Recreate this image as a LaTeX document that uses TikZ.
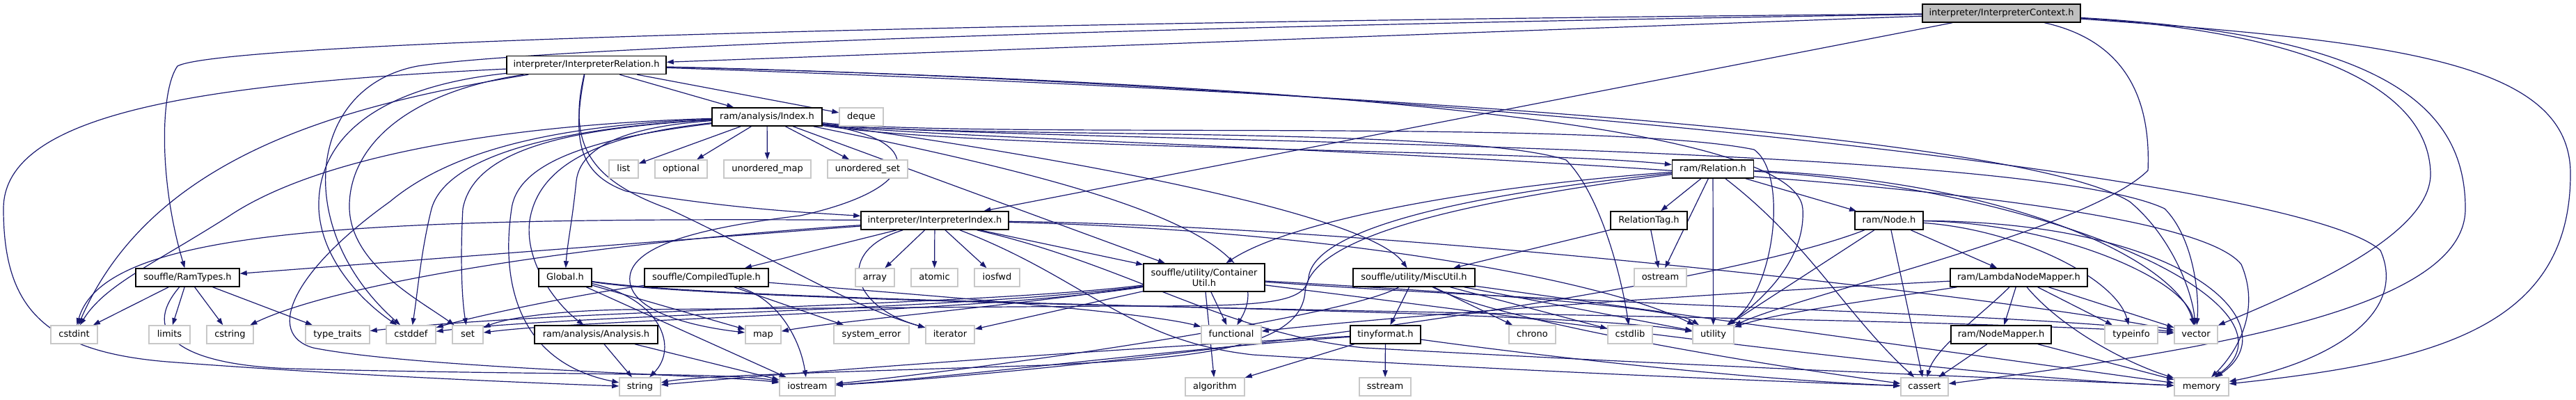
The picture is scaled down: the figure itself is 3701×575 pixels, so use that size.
\documentclass[tikz,border=0pt]{standalone}
\usepackage{fontspec}
\setmainfont{DejaVu Sans}
\usetikzlibrary{arrows.meta}
\definecolor{mb}{HTML}{191970}
\definecolor{sysgray}{HTML}{C8C8C8}
\definecolor{rootgray}{HTML}{BFBFBF}
\pgfdeclarelayer{edges}
\pgfsetlayers{edges,main}
\begin{document}
\begin{tikzpicture}[x=1pt,y=-1pt,
  nodebase/.style={rectangle, inner sep=0pt, fill=white, font=\fontsize{13}{14.5}\selectfont},
  base/.style={nodebase, minimum height=26pt, text height=9.8pt, text depth=2.8pt},
  proj/.style={base, draw=black, line width=1.5pt},
  sys/.style={base, draw=sysgray, line width=1.5pt},
  root/.style={proj, fill=rootgray},
  e/.style={draw=mb, line width=1.2pt, -{Triangle[length=10pt,width=7pt]}}]
\useasboundingbox (0,0) rectangle (3701,575);
% row 0-1
\node[root, minimum width=227pt] (ctx) at (2875.5,19) {interpreter/InterpreterContext.h};
\node[proj, minimum width=229pt] (irel) at (842.5,93.5) {interpreter/InterpreterRelation.h};
% row 2
\node[proj, minimum width=158pt] (index) at (1102,168) {ram/analysis/Index.h};
\node[sys, minimum width=63pt] (deque) at (1237.5,168) {deque};
% row 3
\node[sys, minimum width=42pt] (list) at (896,243) {list};
\node[sys, minimum width=75pt] (optional) at (978.5,243) {optional};
\node[sys, minimum width=125pt] (umap) at (1102.5,243) {unordered\_map};
\node[sys, minimum width=115pt] (uset) at (1246.5,243) {unordered\_set};
\node[proj, minimum width=117pt] (ramrel) at (2461,243) {ram/Relation.h};
% row 4
\node[proj, minimum width=212pt] (iidx) at (1343,317) {interpreter/InterpreterIndex.h};
\node[proj, minimum width=110pt] (reltag) at (2369,317) {RelationTag.h};
\node[proj, minimum width=98pt] (node) at (2714,317) {ram/Node.h};
% row 5
\node[proj, minimum width=149pt] (ramtypes) at (269.5,399) {souffle/RamTypes.h};
\node[proj, minimum width=76pt] (global) at (812,399) {Global.h};
\node[proj, minimum width=178pt] (ctuple) at (1015,399) {souffle/CompiledTuple.h};
\node[sys, minimum width=56pt] (array) at (1257,399) {array};
\node[sys, minimum width=67pt] (atomic) at (1342.5,399) {atomic};
\node[sys, minimum width=65pt] (iosfwd) at (1432.5,399) {iosfwd};
\node[nodebase, draw=black, line width=1.5pt, minimum width=174pt, minimum height=40pt, align=center] (cutil) at (1730,399) {souffle/utility/Container\\Util.h};
\node[proj, minimum width=175pt] (misc) at (2031.5,399) {souffle/utility/MiscUtil.h};
\node[sys, minimum width=75pt] (ostream) at (2385.5,399) {ostream};
\node[proj, minimum width=197pt] (lnm) at (2900.5,399) {ram/LambdaNodeMapper.h};
% row 6
\node[sys, minimum width=67pt] (cstdint) at (106.5,481) {cstdint};
\node[sys, minimum width=59pt] (limits) at (243.5,481) {limits};
\node[sys, minimum width=67pt] (cstring) at (330.5,481) {cstring};
\node[sys, minimum width=92pt] (typetraits) at (485,481) {type\_traits};
\node[sys, minimum width=71pt] (cstddef) at (590.5,481) {cstddef};
\node[sys, minimum width=44pt] (set) at (672,481) {set};
\node[proj, minimum width=177pt] (analysis) at (856.5,481) {ram/analysis/Analysis.h};
\node[sys, minimum width=51pt] (map) at (1096.5,481) {map};
\node[sys, minimum width=108pt] (syserr) at (1252,481) {system\_error};
\node[sys, minimum width=70pt] (iterator) at (1365,481) {iterator};
\node[sys, minimum width=86pt] (functional) at (1769,481) {functional};
\node[proj, minimum width=101pt] (tinyf) at (1990.5,481) {tinyformat.h};
\node[sys, minimum width=67pt] (chrono) at (2201.5,481) {chrono};
\node[sys, minimum width=64pt] (cstdlib) at (2342,481) {cstdlib};
\node[sys, minimum width=59pt] (utility) at (2461.5,481) {utility};
\node[proj, minimum width=144pt] (nodemapper) at (2875,481) {ram/NodeMapper.h};
\node[sys, minimum width=76pt] (typeinfo) at (3062,481) {typeinfo};
\node[sys, minimum width=62pt] (vector) at (3155,481) {vector};
% row 7
\node[sys, minimum width=59pt] (string) at (919.5,556) {string};
\node[sys, minimum width=80pt] (iostream) at (1160,556) {iostream};
\node[sys, minimum width=85pt] (algorithm) at (1745.5,556) {algorithm};
\node[sys, minimum width=74pt] (sstream) at (1990,556) {sstream};
\node[sys, minimum width=68pt] (cassert) at (2765,556) {cassert};
\node[sys, minimum width=78pt] (memory) at (3163,556) {memory};

\begin{pgfonlayer}{edges}
% InterpreterContext
\draw[e] (ctx) -- (irel);
\draw[e] (ctx) -- (iidx);
\draw[e] (ctx) .. controls (1400,32) and (320,60) .. (255,95) .. controls (230,130) and (228,260) .. (ramtypes);
\draw[e] (ctx) .. controls (1600,38) and (760,70) .. (600,95) .. controls (440,125) and (420,330) .. (cstddef);
\draw[e] (ctx) .. controls (3060,60) and (3090,150) .. (3086,245) .. controls (3000,330) and (2600,420) .. (utility);
\draw[e] (ctx) .. controls (3300,45) and (3490,120) .. (3492,250) .. controls (3492,340) and (3300,420) .. (vector);
\draw[e] (ctx) .. controls (3420,50) and (3542,150) .. (3542,300) .. controls (3542,440) and (3200,500) .. (cassert);
\draw[e] (ctx) .. controls (3450,60) and (3693,90) .. (3693,250) .. controls (3693,470) and (3500,520) .. (memory);
% InterpreterRelation
\draw[e] (irel) -- (index);
\draw[e] (irel) -- (deque);
\draw[e] (irel) .. controls (822,200) and (830,250) .. (900,275) .. controls (1050,300) and (1150,305) .. (iidx);
\draw[e] (irel) .. controls (815,210) and (850,260) .. (960,300) .. controls (1100,365) and (1220,440) .. (iterator);
\draw[e] (irel) .. controls (500,150) and (220,220) .. (cstdint);
\draw[e] (irel) .. controls (300,120) and (5,160) .. (5,300) .. controls (5,440) and (60,505) .. (240,520) .. controls (500,540) and (800,552) .. (string);
\draw[e] (irel) .. controls (540,125) and (455,200) .. (458,300) .. controls (462,380) and (530,440) .. (cstddef);
\draw[e] (irel) .. controls (570,135) and (500,220) .. (502,300) .. controls (505,380) and (600,430) .. (set);
\draw[e] (irel) .. controls (2000,120) and (3300,250) .. (3420,360) .. controls (3460,450) and (3350,520) .. (memory);
\draw[e] (irel) .. controls (1900,130) and (2900,190) .. (3060,290) .. controls (3120,340) and (3150,420) .. (vector);
\draw[e] (irel) .. controls (1900,120) and (2580,180) .. (2590,300) .. controls (2595,380) and (2520,440) .. (utility);
% Index
\draw[e] (index) -- (list);
\draw[e] (index) -- (optional);
\draw[e] (index) -- (umap);
\draw[e] (index) -- (uset);
\draw[e] (index) .. controls (930,180) and (835,200) .. (828,260) .. controls (822,320) and (815,350) .. (global);
\draw[e] (index) .. controls (900,190) and (790,220) .. (765,300) .. controls (745,360) and (790,430) .. (analysis);
\draw[e] (index) .. controls (1400,215) and (2200,215) .. (ramrel);
\draw[e] (index) .. controls (1450,215) and (1960,300) .. (misc);
\draw[e] (index) -- (cutil);
\draw[e] (index) .. controls (700,180) and (450,230) .. (330,310) .. controls (220,380) and (150,410) .. (cstdint);
\draw[e] (index) .. controls (800,185) and (680,220) .. (665,300) .. controls (662,350) and (662,420) .. (set);
\draw[e] (index) .. controls (780,185) and (640,230) .. (620,300) .. controls (605,360) and (600,420) .. (cstddef);
\draw[e] (index) .. controls (1330,200) and (1330,270) .. (1150,310) .. controls (980,330) and (900,360) .. (905,405) .. controls (910,450) and (1000,470) .. (map);
\draw[e] (index) .. controls (800,180) and (650,215) .. (560,290) .. controls (420,390) and (380,480) .. (450,500) .. controls (600,530) and (1050,540) .. (iostream);
\draw[e] (index) .. controls (880,195) and (745,225) .. (735,300) .. controls (720,400) and (740,520) .. (string);
\draw[e] (index) .. controls (1500,250) and (1860,330) .. (functional);
\draw[e] (index) .. controls (1350,200) and (2100,180) .. (2250,230) .. controls (2300,280) and (2330,400) .. (cstdlib);
\draw[e] (index) .. controls (1400,200) and (2300,170) .. (2520,215) .. controls (2570,250) and (2550,420) .. (utility);
\draw[e] (index) .. controls (1400,205) and (2900,200) .. (3110,300) .. controls (3150,340) and (3160,420) .. (vector);
\draw[e] (index) .. controls (1400,210) and (3100,230) .. (3220,380) .. controls (3250,450) and (3210,510) .. (memory);
% InterpreterIndex
\draw[e] (iidx) -- (ramtypes);
\draw[e] (iidx) .. controls (500,312) and (150,330) .. (cstdint);
\draw[e] (iidx) -- (ctuple);
\draw[e] (iidx) -- (array);
\draw[e] (iidx) -- (atomic);
\draw[e] (iidx) -- (iosfwd);
\draw[e] (iidx) -- (cutil);
\draw[e] (iidx) .. controls (900,345) and (500,400) .. (cstring);
\draw[e] (iidx) .. controls (1200,360) and (1220,440) .. (iterator);
\draw[e] (iidx) .. controls (1560,400) and (1620,490) .. (1800,510) .. controls (2200,535) and (2600,550) .. (cassert);
\draw[e] (iidx) .. controls (1620,380) and (1760,480) .. (1960,500) .. controls (2500,530) and (3000,548) .. (memory);
\draw[e] (iidx) .. controls (2000,325) and (2900,430) .. (vector);
\draw[e] (iidx) .. controls (1900,330) and (2300,400) .. (utility);
% ram/Relation
\draw[e] (ramrel) -- (reltag);
\draw[e] (ramrel) -- (node);
\draw[e] (ramrel) -- (ostream);
\draw[e] (ramrel) -- (utility);
\draw[e] (ramrel) .. controls (2100,270) and (1850,320) .. (cutil);
\draw[e] (ramrel) .. controls (2100,280) and (1885,330) .. (1880,400) .. controls (1875,440) and (1800,440) .. (1600,440) -- (900,445) .. controls (780,447) and (720,460) .. (set);
\draw[e] (ramrel) .. controls (2100,290) and (1880,340) .. (1875,420) .. controls (1868,505) and (1700,515) .. (1500,525) .. controls (1200,535) and (1000,540) .. (string);
\draw[e] (ramrel) .. controls (2900,260) and (3130,380) .. (vector);
\draw[e] (ramrel) .. controls (2950,270) and (3320,440) .. (memory);
\draw[e] (ramrel) .. controls (2600,350) and (2650,450) .. (cassert);
% RelationTag
\draw[e] (reltag) -- (misc);
\draw[e] (reltag) -- (ostream);
% ram/Node
\draw[e] (node) -- (lnm);
\draw[e] (node) -- (cassert);
\draw[e] (node) -- (utility);
\draw[e] (node) .. controls (2900,330) and (3040,400) .. (typeinfo);
\draw[e] (node) .. controls (2950,320) and (3140,400) .. (vector);
\draw[e] (node) .. controls (3150,320) and (3290,470) .. (memory);
\draw[e] (node) .. controls (2450,420) and (1600,530) .. (iostream);
% LambdaNodeMapper
\draw[e] (lnm) -- (nodemapper);
\draw[e] (lnm) -- (typeinfo);
\draw[e] (lnm) -- (vector);
\draw[e] (lnm) .. controls (2960,470) and (3050,520) .. (memory);
\draw[e] (lnm) .. controls (2850,450) and (2780,500) .. (cassert);
\draw[e] (lnm) .. controls (2700,430) and (2550,450) .. (utility);
\draw[e] (lnm) .. controls (2400,425) and (2000,455) .. (functional);
% NodeMapper
\draw[e] (nodemapper) -- (cassert);
\draw[e] (nodemapper) -- (memory);
% MiscUtil
\draw[e] (misc) -- (tinyf);
\draw[e] (misc) -- (chrono);
\draw[e] (misc) -- (cstdlib);
\draw[e] (misc) -- (utility);
\draw[e] (misc) .. controls (1950,450) and (1500,520) .. (iostream);
\draw[e] (misc) -- (memory);
\draw[e] (misc) .. controls (2150,460) and (2500,520) .. (cassert);
% tinyformat
\draw[e] (tinyf) -- (sstream);
\draw[e] (tinyf) -- (algorithm);
\draw[e] (tinyf) .. controls (1700,500) and (1400,540) .. (iostream);
\draw[e] (tinyf) .. controls (1700,495) and (1200,530) .. (string);
\draw[e] (tinyf) .. controls (2200,510) and (2500,545) .. (cassert);
% ContainerUtil
\draw[e] (cutil) -- (iterator);
\draw[e] (cutil) -- (functional);
\draw[e] (cutil) -- (algorithm);
\draw[e] (cutil) .. controls (1400,440) and (800,445) .. (typetraits);
\draw[e] (cutil) .. controls (1400,445) and (820,452) .. (cstddef);
\draw[e] (cutil) .. controls (1400,450) and (850,458) .. (set);
\draw[e] (cutil) .. controls (1450,440) and (1200,462) .. (map);
\draw[e] (cutil) .. controls (2100,420) and (2400,440) .. (utility);
\draw[e] (cutil) .. controls (2300,440) and (2900,450) .. (vector);
\draw[e] (cutil) .. controls (2300,470) and (2800,540) .. (memory);
% CompiledTuple
\draw[e] (ctuple) .. controls (850,420) and (700,450) .. (cstddef);
\draw[e] (ctuple) -- (syserr);
\draw[e] (ctuple) .. controls (1120,430) and (1150,490) .. (iostream);
\draw[e] (ctuple) .. controls (1400,430) and (1650,450) .. (functional);
% Global
\draw[e] (global) -- (map);
\draw[e] (global) .. controls (950,430) and (975,500) .. (string);
\draw[e] (global) -- (iostream);
\draw[e] (global) .. controls (1100,440) and (2200,440) .. (utility);
\draw[e] (global) .. controls (1100,445) and (2700,450) .. (vector);
% Analysis
\draw[e] (analysis) -- (string);
\draw[e] (analysis) -- (iostream);
% RamTypes
\draw[e] (ramtypes) -- (cstdint);
\draw[e] (ramtypes) -- (limits);
\draw[e] (ramtypes) -- (cstring);
\draw[e] (ramtypes) -- (typetraits);
\draw[e] (ramtypes) .. controls (200,480) and (260,525) .. (420,530) .. controls (800,540) and (1050,535) .. (iostream);
\end{pgfonlayer}
\end{tikzpicture}
\end{document}
